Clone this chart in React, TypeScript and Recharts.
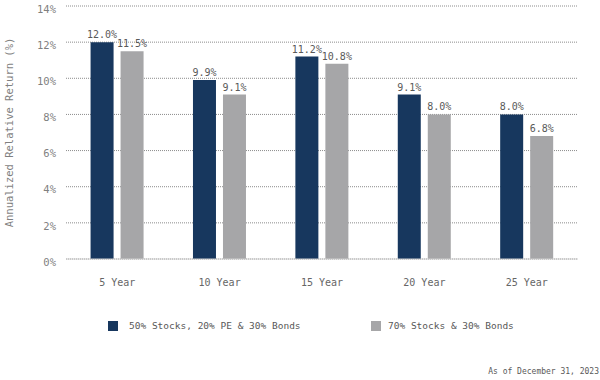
import React from 'react';
import { BarChart, Bar, XAxis, YAxis, CartesianGrid, LabelList } from 'recharts';

const periods = ['5 Year', '10 Year', '15 Year', '20 Year', '25 Year'];
const peMix = [12.0, 9.9, 11.2, 9.1, 8.0];
const stockBond = [11.5, 9.1, 10.8, 8.0, 6.8];
const yTicks = [0, 2, 4, 6, 8, 10, 12, 14];

const series = [
  { key: 'peMix', name: '50% Stocks, 20% PE & 30% Bonds', color: '#17375e' },
  { key: 'stockBond', name: '70% Stocks & 30% Bonds', color: '#a6a6a8' },
];

const data = periods.map((p, i) => ({ period: p, peMix: peMix[i], stockBond: stockBond[i] }));

const FONT = '"DejaVu Sans Mono", Consolas, monospace';

const YLabel = (props: any) => {
  const vb = props.viewBox || {};
  const x = 9;
  const y = vb.y + vb.height / 2;
  return (
    <text x={x} y={y} transform={`rotate(-90 ${x} ${y})`} textAnchor="middle" dominantBaseline="central"
      fill="#7f7f7f" fontSize={10.5} fontFamily={FONT}>
      Annualized Relative Return (%)
    </text>
  );
};

export default function App() {
  return (
    <div style={{ position: 'absolute', left: 0, top: 0, width: 600, height: 380, background: '#fff', fontFamily: FONT }}>
      <BarChart width={600} height={300} data={data} margin={{ top: 6, right: 22, left: 0, bottom: 11 }}
        barCategoryGap="24%" barGap={7}>
        <CartesianGrid vertical={false} stroke="#8c8c8c" strokeDasharray="1 1" />
        <XAxis dataKey="period" axisLine={{ stroke: '#cfcfcf' }} tickLine={false} tickMargin={14} height={30}
          tick={{ fill: '#666', fontSize: 10, fontFamily: FONT }} />
        <YAxis domain={[0, 14]} ticks={yTicks} width={66} axisLine={false} tickLine={false} tickMargin={4}
          tickFormatter={(v: number) => `${v}%`} tick={{ fill: '#7f7f7f', fontSize: 10.5, fontFamily: FONT, dy: 3 }}
          label={{ content: YLabel }} />
        {series.map((s) => (
          <Bar key={s.key} dataKey={s.key} name={s.name} fill={s.color} isAnimationActive={false}>
            <LabelList dataKey={s.key} position="top" offset={4} fill="#595959" fontSize={10} fontFamily={FONT}
              formatter={(v: any) => `${Number(v).toFixed(1)}%`} />
          </Bar>
        ))}
      </BarChart>
      {series.map((s, i) => (
        <div key={s.key} style={{ position: 'absolute', top: 320, left: i === 0 ? 108 : 371, display: 'flex', alignItems: 'center', fontSize: 9.5, color: '#595959' }}>
          <span style={{ display: 'inline-block', width: 10, height: 10, background: s.color, marginRight: i === 0 ? 11 : 7 }} />
          <span>{s.name}</span>
        </div>
      ))}
      <div style={{ position: 'absolute', top: 367, right: 1, fontSize: 8, color: '#595959' }}>As of December 31, 2023</div>
    </div>
  );
}
